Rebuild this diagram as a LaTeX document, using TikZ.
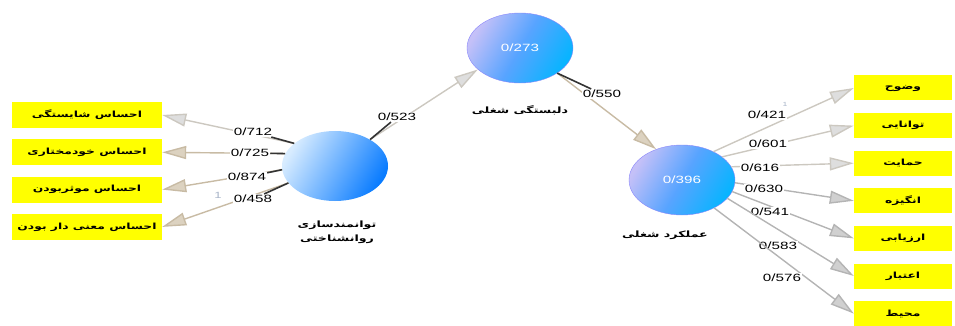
\documentclass[tikz,border=0pt]{standalone}
\usepackage{fontspec}
\setmainfont{Liberation Sans}[FakeStretch=1.45]
\newfontfamily\fa[Script=Arabic,FakeStretch=1.45]{DejaVu Sans}
\TeXXeTstate=1
\usetikzlibrary{arrows.meta,shapes.geometric}

\definecolor{boxyellow}{HTML}{FFFF00}
\definecolor{lav}{HTML}{C4C0F8}
\definecolor{midb}{HTML}{58A4FF}
\definecolor{skyb}{HTML}{08B4FF}
\definecolor{paleb}{HTML}{D8ECFF}
\definecolor{deepb}{HTML}{0A7CFF}
\definecolor{tanline}{HTML}{C8BBA4}
\definecolor{tanhead}{HTML}{DCD2C0}
\definecolor{grayline}{HTML}{B4B4B4}
\definecolor{grayhead}{HTML}{D0D0D0}
\definecolor{lightline}{HTML}{CCC8C0}
\definecolor{onegray}{HTML}{A8B4C8}

\newcommand{\fatext}[1]{{\fa\bfseries\beginR #1\endR}}

\tikzset{
  item/.style={rectangle,fill=boxyellow,minimum width=150pt,minimum height=26pt,inner sep=0pt,font=\fontsize{8.5}{9}\selectfont},
  ritem/.style={item,minimum width=98pt,minimum height=25pt},
  latent/.style={ellipse,minimum width=106pt,minimum height=70pt,inner sep=0pt,text=white,font=\fontsize{10.5}{12}\selectfont},
  bluish/.style={top color=lav,bottom color=skyb,middle color=midb,shading angle=60,draw=lav!70!blue,line width=.4pt},
  latname/.style={align=center,font=\fontsize{8.7}{14}\selectfont},
  coef/.style={fill=white,inner sep=1pt,font=\fontsize{10.5}{12}\selectfont},
  stub/.style={black!80,line width=1.6pt},
  loadtan/.style={tanline,line width=1.4pt,-{Triangle[length=24pt,width=13pt,fill=tanhead]}},
  loadgray/.style={grayline,line width=1.4pt,-{Triangle[length=24pt,width=13pt,fill=grayhead]}},
  loadlight/.style={lightline,line width=1.4pt,-{Triangle[length=24pt,width=13pt,fill=grayhead!70]}}
}

\begin{document}
\begin{tikzpicture}[x=1pt,y=-1pt]
  \useasboundingbox (0,0) rectangle (955,326);

  % latent variables
  \node[latent,top color=paleb,bottom color=deepb,shading angle=60] (psy) at (335,166) {};
  \node[latent,bluish] (eng) at (520,48) {0/273};
  \node[latent,bluish] (perf) at (682,180) {0/396};

  \node[latname] (psyname) at (337,232) {\fatext{توانمندسازی}\\\fatext{روانشناختی}};
  \node[latname] (engname) at (520,110) {\fatext{دلبستگی شغلی}};
  \node[latname] (perfname) at (665,235) {\fatext{عملکرد شغلی}};

  % indicators
  \foreach \t [count=\i] in {احساس شایستگی,احساس خودمختاری,احساس موثربودن,احساس معنی دار بودن}
    \node[item] (a\i) at (87,{115+37.3*(\i-1)}) {\fatext{\t}};
  \foreach \t [count=\i] in {وضوح,توانایی,حمایت,انگیزه,ارزیابی,اعتبار,محیط}
    \node[ritem] (b\i) at (903,{88+37.6*(\i-1)}) {\fatext{\t}};

  % outer loadings, left
  \foreach \a/\v/\lx/\ly/\st [count=\i] in {151/712/253/132/loadlight,166/725/250/153/loadtan,184/874/247/177/loadtan,200/458/253/199/loadtan}{
    \draw[\st] (psy.\a) -- (a\i.east);
    \node[coef] (c\v) at (\lx,\ly) {0/\v};
    \draw[stub] (psy.\a) -- (c\v);
  }
  \node[text=onegray,font=\fontsize{9}{10}\selectfont] (one1) at (218,195) {1};

  % outer loadings, right
  \foreach \a/\v/\lx/\ly/\st [count=\i] in {42/421/767/115/loadlight,30/601/768/144/loadlight,15/616/760/168/loadlight,-3/630/764/189/loadgray,-13/541/770/212/loadgray,-22/583/778/246/loadgray,-41/576/782/278/loadgray}{
    \draw[\st] (perf.\a) -- (b\i.west);
    \node[coef] (c\v) at (\lx,\ly) {0/\v};
  }
  \node[text=onegray,font=\fontsize{6}{7}\selectfont] (one2) at (785,104) {1};

  % paths
  \draw[loadlight] (psy.37) -- (eng.207);
  \node[coef] (c523) at (397,117) {0/523};
  \draw[stub] (psy.37) -- (c523);
  \draw[loadtan] (eng.-34) -- (perf.130);
  \node[coef] (c550) at (602,94) {0/550};
  \draw[stub] (eng.-34) -- (c550);
\end{tikzpicture}
\end{document}
